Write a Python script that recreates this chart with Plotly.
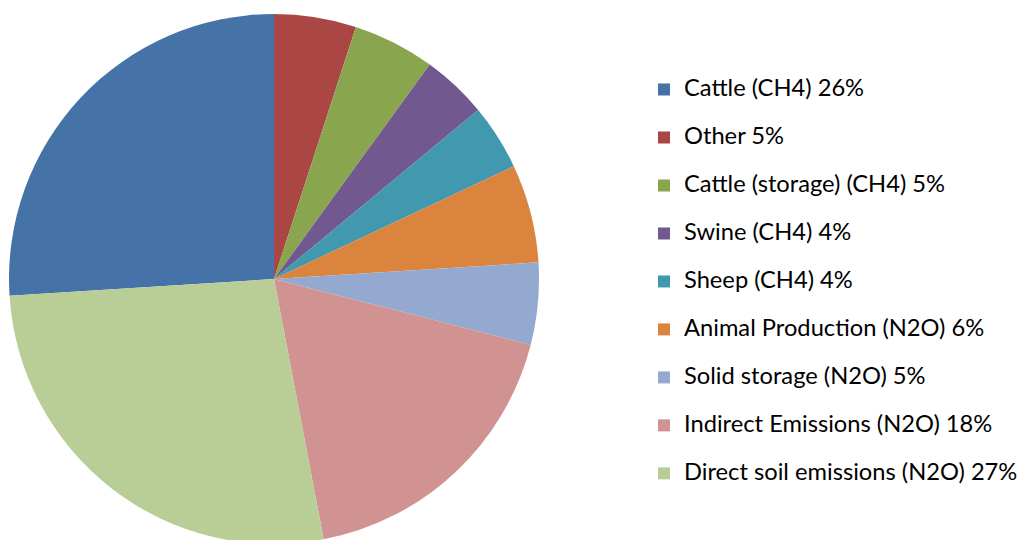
import plotly.graph_objects as go

categories = ["Cattle (CH4)", "Other", "Cattle (storage) (CH4)", "Swine (CH4)", "Sheep (CH4)",
              "Animal Production (N2O)", "Solid storage (N2O)", "Indirect Emissions (N2O)",
              "Direct soil emissions (N2O)"]
values = [26, 5, 5, 4, 4, 6, 5, 18, 27]
colors = ["#4572A7", "#AA4643", "#89A54E", "#71588F", "#4198AF",
          "#DB843D", "#93A9CF", "#D19392", "#B9CD96"]

labels = ["<span style='font-size:23.7px'>%s %d%%</span><br> " % (c, v) for c, v in zip(categories, values)]

rotation = -360 * values[0] / sum(values)

fig = go.Figure(go.Pie(
    labels=labels,
    values=values,
    marker=dict(colors=colors, line=dict(width=0)),
    sort=False,
    direction="clockwise",
    rotation=rotation,
    textinfo="none",
    hoverinfo="label+percent",
    domain=dict(x=[0, 532 / 1029], y=[0, 1]),
))

fig.update_layout(
    width=1029, height=540,
    margin=dict(l=0, r=0, t=6, b=4),
    paper_bgcolor="white", plot_bgcolor="white",
    font=dict(family="Lato, Carlito, sans-serif", color="black"),
    legend=dict(
        x=636 / 1029, xanchor="left",
        y=0.891, yanchor="top",
        font=dict(size=17.3, family="Lato, Carlito, sans-serif", color="black"),
        valign="top",
        bgcolor="rgba(0,0,0,0)",
    ),
    showlegend=True,
)

fig.write_html("out.html")
